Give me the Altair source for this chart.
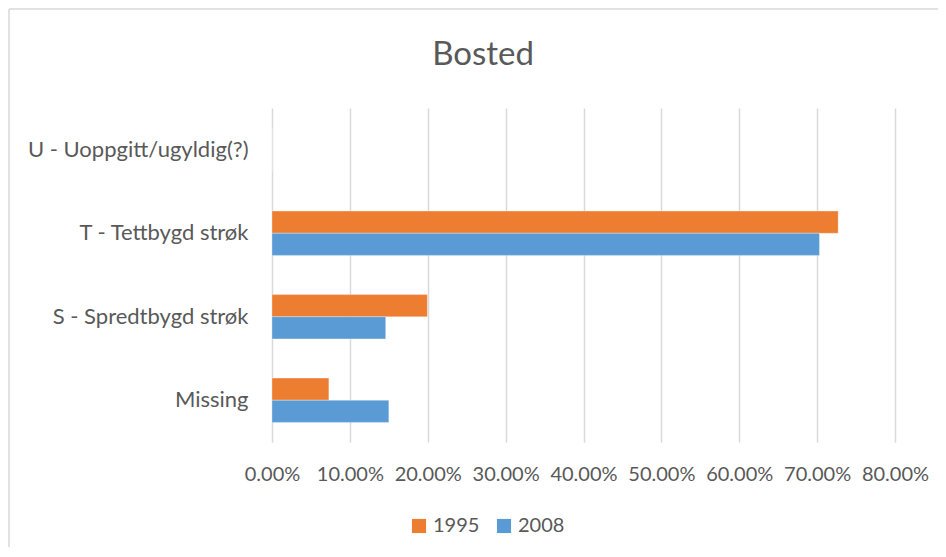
import altair as alt
import pandas as pd

title_text = "Bosted"
categories = ["U - Uoppgitt/ugyldig(?)", "T - Tettbygd strøk", "S - Spredtbygd strøk", "Missing"]
series = ["1995", "2008"]
values_1995 = [0.0, 0.727, 0.1995, 0.073]
values_2008 = [0.0, 0.703, 0.146, 0.150]
x_ticks = [0.0, 0.1, 0.2, 0.3, 0.4, 0.5, 0.6, 0.7, 0.8]

rows = []
for c, a, b in zip(categories, values_1995, values_2008):
    rows.append({"Kategori": c, "År": "1995", "Andel": a})
    rows.append({"Kategori": c, "År": "2008", "Andel": b})
df = pd.DataFrame(rows)

FONT = "Lato"
GRAY = "#595959"

bars = alt.Chart(df).mark_bar(stroke="white", strokeWidth=0.5, strokeOpacity=0.6).encode(
    y=alt.Y("Kategori:N", sort=categories, title=None,
            scale=alt.Scale(paddingInner=0.47, paddingOuter=0.235),
            axis=alt.Axis(ticks=False, domain=False, labelFontSize=22, labelColor=GRAY,
                          labelFont=FONT, labelPadding=24, labelLimit=400)),
    yOffset=alt.YOffset("År:N", sort=series),
    x=alt.X("Andel:Q", title=None,
            scale=alt.Scale(domain=[0, 0.8], nice=False),
            axis=alt.Axis(format=".2%", values=x_ticks, ticks=False, domain=False,
                          grid=True, gridColor="#D9D9D9", gridWidth=1.5,
                          labelFontSize=20, labelColor=GRAY, labelFont=FONT,
                          labelPadding=22, labelFlush=False)),
    color=alt.Color("År:N", sort=series,
                    scale=alt.Scale(domain=series, range=["#ED7D31", "#5B9BD5"]),
                    legend=alt.Legend(title=None, orient="none", legendX=137, legendY=408,
                                      direction="horizontal", symbolType="square",
                                      symbolSize=200, symbolStrokeWidth=0,
                                      labelFontSize=20, labelColor=GRAY, labelFont=FONT,
                                      columnPadding=14, labelOffset=4)),
)

one = pd.DataFrame({"a": [0]})
top_line = alt.Chart(one).mark_rule(color="#D9D9D9", strokeWidth=1.5).encode(
    x=alt.value(-263), x2=alt.value(700), y=alt.value(-99)
)
left_line = alt.Chart(one).mark_rule(color="#D9D9D9", strokeWidth=1.5).encode(
    x=alt.value(-263), y=alt.value(-99), y2=alt.value(480)
)

title = alt.Chart(pd.DataFrame({"t": [title_text]})).mark_text(
    font=FONT, fontSize=33, color=GRAY, align="center", baseline="alphabetic"
).encode(
    text="t:N", x=alt.value(211), y=alt.value(-43)
)

chart = alt.layer(top_line, left_line, bars, title).properties(
    width=623, height=334,
    autosize=alt.AutoSizeParams(type="none"),
    padding={"left": 264, "top": 100, "right": 43, "bottom": 105},
).configure_view(stroke=None)

chart.save("out.html", embed_options={"renderer": "svg", "actions": False})
